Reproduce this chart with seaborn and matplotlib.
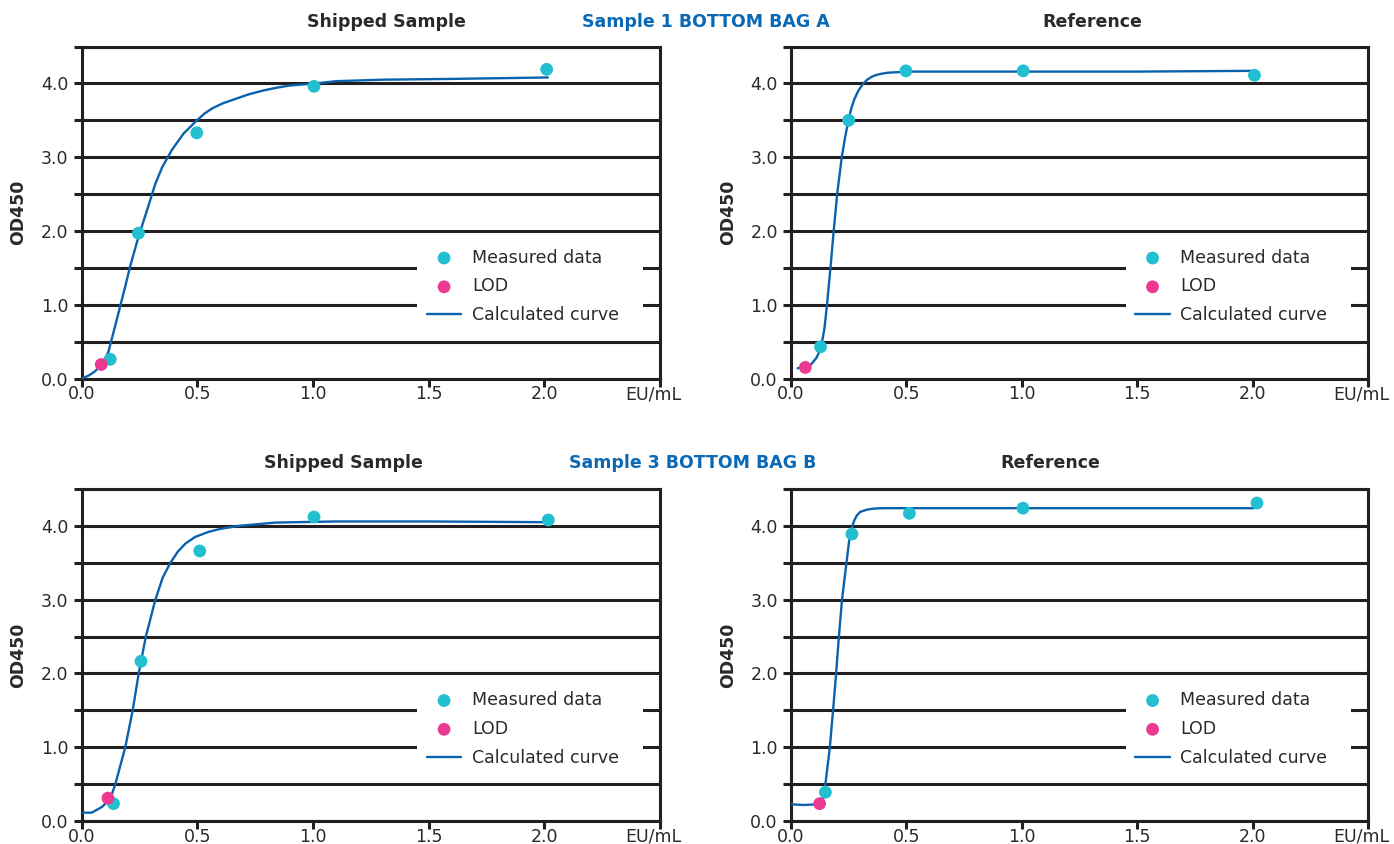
import numpy as np
import pandas as pd
import matplotlib
matplotlib.use("Agg")
import matplotlib.pyplot as plt
import matplotlib.transforms as mtrans
import seaborn as sns

# ---------------- data ----------------
# Sample 1 BOTTOM BAG A - Shipped Sample
a_ship_meas_x = [0.123, 0.245, 0.497, 1.004, 2.010]
a_ship_meas_y = [0.26, 1.97, 3.33, 3.96, 4.19]
a_ship_lod_x = [0.084]
a_ship_lod_y = [0.19]
a_ship_curve_x = [0.0, 0.03, 0.058, 0.085, 0.101, 0.115, 0.123, 0.145, 0.166, 0.188,
                  0.209, 0.245, 0.282, 0.318, 0.347, 0.39, 0.44, 0.498, 0.53, 0.563,
                  0.61, 0.665, 0.72, 0.78, 0.84, 0.896, 1.011, 1.1, 1.3, 1.58, 2.015]
a_ship_curve_y = [0.0, 0.04, 0.10, 0.19, 0.27, 0.36, 0.46, 0.72, 0.98, 1.25,
                  1.52, 1.92, 2.28, 2.64, 2.86, 3.10, 3.32, 3.50, 3.59, 3.66,
                  3.73, 3.79, 3.85, 3.90, 3.94, 3.97, 4.00, 4.03, 4.05, 4.06, 4.08]

# Sample 1 BOTTOM BAG A - Reference
a_ref_meas_x = [0.128, 0.250, 0.498, 1.006, 2.008]
a_ref_meas_y = [0.43, 3.50, 4.17, 4.17, 4.11]
a_ref_lod_x = [0.062]
a_ref_lod_y = [0.15]
a_ref_curve_x = [0.029, 0.06, 0.087, 0.11, 0.118, 0.127, 0.133, 0.145, 0.156, 0.171,
                 0.185, 0.2, 0.22, 0.235, 0.249, 0.262, 0.275, 0.29, 0.311, 0.33,
                 0.35, 0.37, 0.391, 0.42, 0.45, 0.5, 1.0, 1.5, 2.0]
a_ref_curve_y = [0.14, 0.15, 0.19, 0.28, 0.33, 0.41, 0.47, 0.68, 1.0, 1.5,
                 2.0, 2.5, 3.0, 3.28, 3.5, 3.67, 3.79, 3.89, 3.99, 4.05,
                 4.09, 4.115, 4.13, 4.145, 4.15, 4.16, 4.16, 4.16, 4.17]

# Sample 3 BOTTOM BAG B - Shipped Sample
b_ship_meas_x = [0.137, 0.256, 0.510, 1.004, 2.017]
b_ship_meas_y = [0.235, 2.165, 3.66, 4.12, 4.08]
b_ship_lod_x = [0.113]
b_ship_lod_y = [0.31]
b_ship_curve_x = [0.0, 0.043, 0.087, 0.123, 0.145, 0.188, 0.22, 0.246, 0.277, 0.318,
                  0.35, 0.383, 0.415, 0.448, 0.49, 0.549, 0.6, 0.679, 0.838, 1.098,
                  1.5, 2.017]
b_ship_curve_y = [0.113, 0.113, 0.19, 0.30, 0.5, 1.0, 1.5, 2.0, 2.5, 3.0,
                  3.3, 3.5, 3.65, 3.76, 3.85, 3.92, 3.96, 4.0, 4.045, 4.06,
                  4.06, 4.05]

# Sample 3 BOTTOM BAG B - Reference
b_ref_meas_x = [0.149, 0.264, 0.513, 1.005, 2.019]
b_ref_meas_y = [0.39, 3.89, 4.17, 4.24, 4.31]
b_ref_lod_x = [0.124]
b_ref_lod_y = [0.235]
b_ref_curve_x = [0.0, 0.055, 0.113, 0.13, 0.139, 0.149, 0.168, 0.182, 0.195, 0.207,
                 0.221, 0.24, 0.252, 0.262, 0.272, 0.285, 0.3, 0.329, 0.36, 0.402,
                 0.835, 1.5, 2.006]
b_ref_curve_y = [0.226, 0.217, 0.226, 0.245, 0.30, 0.5, 0.99, 1.49, 1.98, 2.48,
                 3.0, 3.49, 3.80, 3.95, 4.06, 4.14, 4.19, 4.22, 4.235, 4.24,
                 4.24, 4.24, 4.24]

x_tick_vals = [0.0, 0.5, 1.0, 1.5, 2.0, 2.5]
x_tick_labels = ["0.0", "0.5", "1.0", "1.5", "2.0", "EU/mL"]
y_tick_vals = [0.0, 0.5, 1.0, 1.5, 2.0, 2.5, 3.0, 3.5, 4.0, 4.5]
y_tick_labels = ["0.0", "", "1.0", "", "2.0", "", "3.0", "", "4.0", ""]

legend_labels = ["Measured data", "LOD", "Calculated curve"]
sample_titles = ["Sample 1 BOTTOM BAG A", "Sample 3 BOTTOM BAG B"]
panel_titles = ["Shipped Sample", "Reference"]

# ---------------- style ----------------
sns.set_style("white")
plt.rcParams["font.family"] = ["DejaVu Sans"]

CYAN = "#21BFCF"
MAGENTA = "#EC3A93"
LINE = "#0A62AE"
TITLE_BLUE = "#0A68B4"
GRID = "#231F20"
TXT = "#2a2a2a"

fig = plt.figure(figsize=(13.94, 8.44), dpi=100)

W, H = 1394, 844
def pos(left_px, right_px, top_px, bottom_px):
    return [left_px / W, (H - bottom_px) / H, (right_px - left_px) / W, (bottom_px - top_px) / H]

panels = [
    (pos(81.8, 660, 46.5, 378.5), a_ship_meas_x, a_ship_meas_y, a_ship_lod_x, a_ship_lod_y, a_ship_curve_x, a_ship_curve_y),
    (pos(791, 1368, 46.5, 378.5), a_ref_meas_x, a_ref_meas_y, a_ref_lod_x, a_ref_lod_y, a_ref_curve_x, a_ref_curve_y),
    (pos(81.8, 660, 489, 821), b_ship_meas_x, b_ship_meas_y, b_ship_lod_x, b_ship_lod_y, b_ship_curve_x, b_ship_curve_y),
    (pos(791, 1368, 489, 821), b_ref_meas_x, b_ref_meas_y, b_ref_lod_x, b_ref_lod_y, b_ref_curve_x, b_ref_curve_y),
]

for rect, mx, my, lx, ly, cx, cy in panels:
    ax = fig.add_axes(rect)
    curve = pd.DataFrame({"x": cx, "y": cy})
    meas = pd.DataFrame({"x": mx, "y": my})
    lod = pd.DataFrame({"x": lx, "y": ly})
    sns.lineplot(data=curve, x="x", y="y", ax=ax, color=LINE, lw=1.7, sort=False,
                 estimator=None, label=legend_labels[2], zorder=3)
    sns.scatterplot(data=meas, x="x", y="y", ax=ax, color=CYAN, s=85, edgecolor="none",
                    label=legend_labels[0], zorder=4)
    sns.scatterplot(data=lod, x="x", y="y", ax=ax, color=MAGENTA, s=85, edgecolor="none",
                    label=legend_labels[1], zorder=5)

    ax.set_xlim(0, 2.5)
    ax.set_ylim(0, 4.5)
    ax.set_xticks(x_tick_vals)
    ax.set_xticklabels(x_tick_labels)
    ax.set_yticks(y_tick_vals)
    ax.set_yticklabels(y_tick_labels)
    ax.set_xlabel("")
    ax.set_ylabel("OD450", fontsize=12.5, fontweight="bold", color=TXT)
    ax.yaxis.set_label_coords(-0.094, 0.5)
    ax.grid(axis="y", color=GRID, lw=2.2)
    ax.grid(axis="x", visible=False)
    ax.set_axisbelow(True)
    for sp in ax.spines.values():
        sp.set_visible(True)
        sp.set_color(GRID)
        sp.set_linewidth(2.2)
    ax.tick_params(axis="both", direction="out", length=6, width=2.2, color=GRID,
                   labelsize=12.5, labelcolor=TXT, bottom=True, left=True)
    ax.tick_params(axis="x", pad=-1.2)
    ax.tick_params(axis="y", pad=3.5)
    lab = ax.get_xticklabels()[-1]
    lab.set_transform(lab.get_transform() + mtrans.ScaledTranslation(-5 / 72, 0, fig.dpi_scale_trans))

    handles, labels = ax.get_legend_handles_labels()
    order = [labels.index(l) for l in legend_labels]
    leg = ax.legend([handles[i] for i in order], [labels[i] for i in order],
                    loc="lower left", bbox_to_anchor=(0.58, 0.135, 0.39, 0.29),
                    mode="expand", frameon=True, fontsize=12.5, labelspacing=0.62,
                    handlelength=2.0, handletextpad=0.6, borderpad=0.55,
                    borderaxespad=0, markerscale=1.0)
    frame = leg.get_frame()
    frame.set_facecolor("white")
    frame.set_edgecolor("none")
    frame.set_alpha(1)
    frame.set_boxstyle("square", pad=0)
    for t in leg.get_texts():
        t.set_color(TXT)
    leg.set_zorder(6)

# titles
fig.text(386 / W, 1 - 22 / H, panel_titles[0], ha="center", va="center", fontsize=12.5,
         fontweight="bold", color=TXT)
fig.text(706 / W, 1 - 22 / H, sample_titles[0], ha="center", va="center", fontsize=12.5,
         fontweight="bold", color=TITLE_BLUE)
fig.text(1092 / W, 1 - 22 / H, panel_titles[1], ha="center", va="center", fontsize=12.5,
         fontweight="bold", color=TXT)
fig.text(343 / W, 1 - 463 / H, panel_titles[0], ha="center", va="center", fontsize=12.5,
         fontweight="bold", color=TXT)
fig.text(693 / W, 1 - 463 / H, sample_titles[1], ha="center", va="center", fontsize=12.5,
         fontweight="bold", color=TITLE_BLUE)
fig.text(1050 / W, 1 - 463 / H, panel_titles[1], ha="center", va="center", fontsize=12.5,
         fontweight="bold", color=TXT)

fig.savefig("out.png", dpi=100, facecolor="white")
